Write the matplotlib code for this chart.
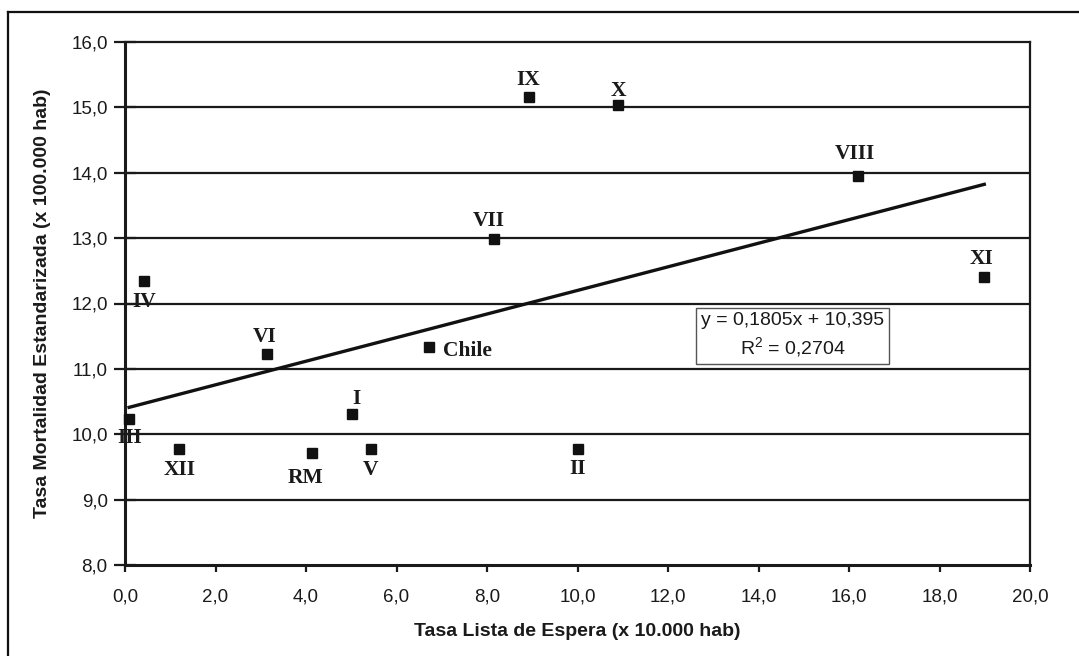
import matplotlib
matplotlib.use("Agg")
import matplotlib.pyplot as plt
from matplotlib.lines import Line2D

# ---- DATA ----
regiones = ['I', 'II', 'III', 'IV', 'V', 'VI', 'VII', 'VIII', 'IX', 'X', 'XI', 'XII', 'RM', 'Chile']
lista_espera = [5.02, 10.0, 0.09, 0.42, 5.43, 3.13, 8.16, 16.2, 8.93, 10.9, 18.99, 1.2, 4.14, 6.72]
mortalidad = [10.31, 9.77, 10.24, 12.35, 9.78, 11.23, 12.98, 13.95, 15.16, 15.03, 12.40, 9.78, 9.71, 11.33]

# label offsets (pixels) relative to each marker
offsets = {
    'I': (4, 15), 'II': (0, -20), 'III': (1, -19), 'IV': (0, -21), 'V': (0, -21),
    'VI': (-2, 17), 'VII': (-5, 18), 'VIII': (-3, 22), 'IX': (-1, 17), 'X': (0, 14),
    'XI': (-3, 18), 'XII': (0, -21), 'RM': (-7, -25), 'Chile': (14, -4),
}

slope = 0.1805
intercept = 10.395
r2_text = '0,2704'

x_ticks = [0, 2, 4, 6, 8, 10, 12, 14, 16, 18, 20]
x_labels = ['0,0', '2,0', '4,0', '6,0', '8,0', '10,0', '12,0', '14,0', '16,0', '18,0', '20,0']
y_ticks = [8, 9, 10, 11, 12, 13, 14, 15, 16]
y_labels = ['8,0', '9,0', '10,0', '11,0', '12,0', '13,0', '14,0', '15,0', '16,0']

# ---- FONTS ----
plt.rcParams['font.family'] = ['Liberation Sans', 'DejaVu Sans']
plt.rcParams['mathtext.fontset'] = 'custom'
plt.rcParams['mathtext.rm'] = 'Liberation Sans'
plt.rcParams['mathtext.it'] = 'Liberation Sans'

fig = plt.figure(figsize=(10.79, 6.56), dpi=100)
ax = fig.add_axes([125 / 1079, 1 - 565 / 656, 905 / 1079, 523 / 656])

# outer frame (cropped at right/bottom)
fig.add_artist(Line2D([8 / 1079, 8 / 1079], [0, 1 - 12 / 656], color='#111111', lw=1.6,
                      transform=fig.transFigure))
fig.add_artist(Line2D([8 / 1079, 1], [1 - 12 / 656, 1 - 12 / 656], color='#111111', lw=1.6,
                      transform=fig.transFigure))

ax.set_xlim(0, 20)
ax.set_ylim(8, 16)

# horizontal grid
for yv in y_ticks[1:-1]:
    ax.axhline(yv, color='#1a1a1a', lw=1.6, zorder=1)

for s in ax.spines.values():
    s.set_color('#1a1a1a')
    s.set_linewidth(1.6)
ax.spines['left'].set_linewidth(2.2)
ax.spines['bottom'].set_linewidth(2.2)

ax.plot(lista_espera, mortalidad, 's', color='#111111', ms=7.5, zorder=3, clip_on=False)

# trend line
xmin, xmax = min(lista_espera), max(lista_espera)
ax.plot([xmin, xmax], [slope * xmin + intercept, slope * xmax + intercept],
        color='#111111', lw=2.4, zorder=2)

for name, xv, yv in zip(regiones, lista_espera, mortalidad):
    dx, dy = offsets[name]
    ha = 'left' if name == 'Chile' else 'center'
    ax.annotate(name, (xv, yv), xytext=(dx, dy), textcoords='offset pixels',
                ha=ha, va='center', fontsize=15.5, fontweight='bold',
                family='Liberation Serif', color='#1a1a1a', zorder=4)

ax.text(14.75, 11.51, 'y = 0,1805x + 10,395\nR$^{2}$ = ' + r2_text, ha='center', va='center',
        fontsize=14, color='#1a1a1a', linespacing=1.35, zorder=5,
        bbox=dict(boxstyle='square,pad=0.25', fc='white', ec='#555555', lw=1.0))

ax.set_xticks(x_ticks)
ax.set_xticklabels(x_labels)
ax.set_yticks(y_ticks)
ax.set_yticklabels(y_labels)
ax.tick_params(axis='x', direction='out', length=5, width=1.6, pad=12, labelsize=13.5,
               colors='#1a1a1a')
ax.tick_params(axis='y', direction='inout', length=16, width=1.6, pad=4.5, labelsize=13.5,
               colors='#1a1a1a')

ax.set_xlabel('Tasa Lista de Espera (x 10.000 hab)', fontsize=14, fontweight='bold',
              color='#1a1a1a')
ax.set_ylabel('Tasa Mortalidad Estandarizada (x 100.000 hab)', fontsize=14, fontweight='bold',
              color='#1a1a1a', va='center')
ax.xaxis.set_label_coords(0.5, -0.11)
ax.yaxis.set_label_coords(-0.0917, 0.5)

fig.savefig('out.png', dpi=100)
